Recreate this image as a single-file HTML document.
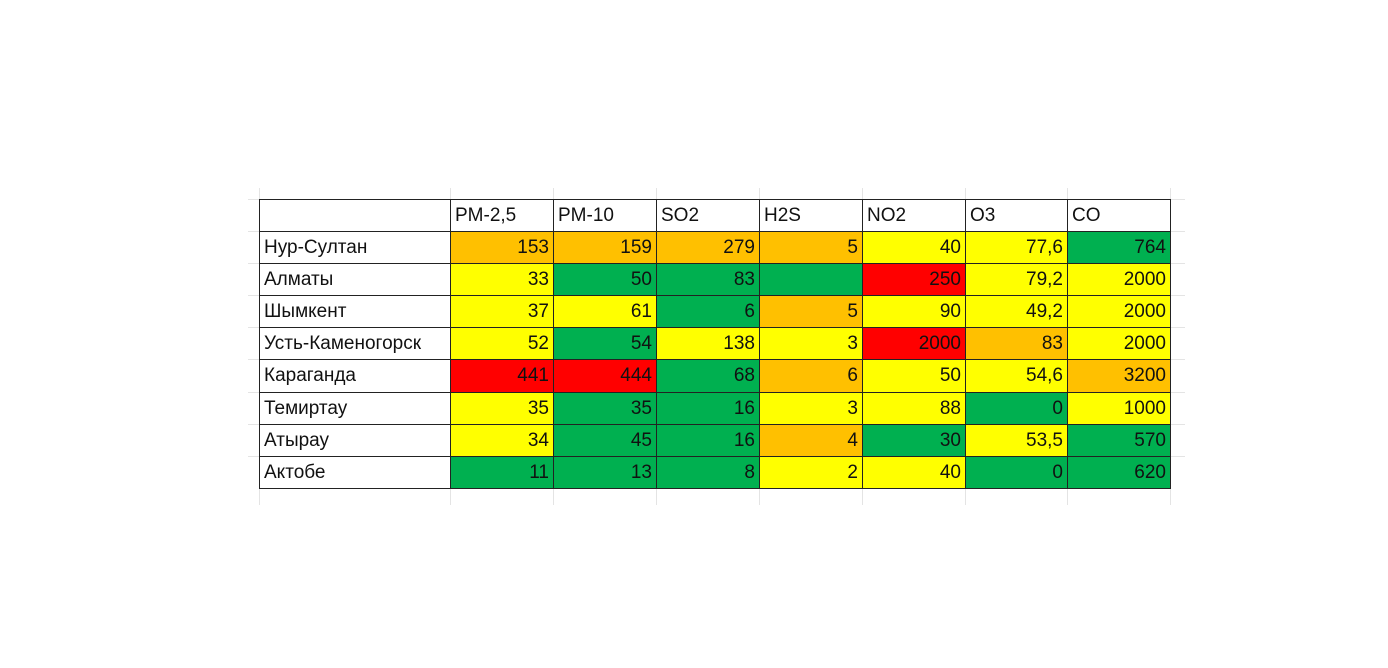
<!DOCTYPE html>
<html><head><meta charset="utf-8"><style>
body{margin:0;width:1388px;height:668px;background:#fff;position:relative;overflow:hidden;font-family:"Liberation Sans","DejaVu Sans",sans-serif}
.c{position:absolute;box-sizing:border-box;border-right:1px solid #222;border-bottom:1px solid #222;font-size:19px;line-height:31px;padding:0 4px;color:#111;white-space:nowrap;overflow:hidden}
.g{position:absolute;background:#e4e4e4}
</style></head><body>
<div id="t"></div>
<script>
const headers=["","PM-2,5","PM-10","SO2","H2S","NO2","O3","CO"];
const cities=["Нур-Султан","Алматы","Шымкент","Усть-Каменогорск","Караганда","Темиртау","Атырау","Актобе"];
const values=[
["153","159","279","5","40","77,6","764"],
["33","50","83","","250","79,2","2000"],
["37","61","6","5","90","49,2","2000"],
["52","54","138","3","2000","83","2000"],
["441","444","68","6","50","54,6","3200"],
["35","35","16","3","88","0","1000"],
["34","45","16","4","30","53,5","570"],
["11","13","8","2","40","0","620"]];
const levels=["OOOOYYG","YGGGRYY","YYGOYYY","YGYYROY","RRGOYYO","YGGYYGY","YGGOGYG","GGGYYGG"];
const colorMap={O:"#FFC000",Y:"#FFFF00",G:"#00B050",R:"#FF0000"};
const colX=[260,451,554,657,760,863,966,1068,1171];
const top0=200,headH=32,rowH=32.1;
const t=document.getElementById('t');
function cell(x,y,w,h,txt,bg,right,name){
 const d=document.createElement('div');d.className='c';
 
 
 d.style.left=x+'px';d.style.top=y+'px';d.style.width=w+'px';d.style.height=h+'px';
 d.style.background=bg;if(right)d.style.textAlign='right';
 d.textContent=txt;t.appendChild(d);}
// faint grid lines outside table
for(let i=0;i<colX.length;i++){
 [[top0-12,12],[489,16]].forEach(([y,h])=>{const g=document.createElement('div');g.className='g';
 
 
 g.style.left=(colX[i]-1)+'px';g.style.top=y+'px';g.style.width='1px';g.style.height=h+'px';t.appendChild(g);});
}
for(let r=0;r<=cities.length;r++){
 const y=r==0?top0:top0+headH+(r-1)*rowH;
 [[248,12],[1171,14]].forEach(([x,w])=>{const g=document.createElement('div');g.className='g';
 
 
 g.style.left=x+'px';g.style.top=(y-1)+'px';g.style.width=w+'px';g.style.height='1px';t.appendChild(g);});
}
// top/left borders
const tb=document.createElement('div');


tb.style.cssText=`position:absolute;left:${colX[0]-1}px;top:${top0-1}px;width:${colX[8]-colX[0]+1}px;height:${headH+cities.length*rowH+1}px;border-left:1px solid #222;border-top:1px solid #222;box-sizing:border-box`;
t.appendChild(tb);
headers.forEach((h,i)=>cell(colX[i],top0,colX[i+1]-colX[i],headH,h,'#fff',false,'header-'+(h||'blank')));
cities.forEach((c,r)=>{
 const y=Math.round(top0+headH+r*rowH);const h=Math.round(top0+headH+(r+1)*rowH)-y;
 cell(colX[0],y,colX[1]-colX[0],h,c,'#fff',false,'city-label');
 values[r].forEach((v,j)=>cell(colX[j+1],y,colX[j+2]-colX[j+1],h,v,colorMap[levels[r][j]],true,'value-cell'));
});
</script>
</body></html>
